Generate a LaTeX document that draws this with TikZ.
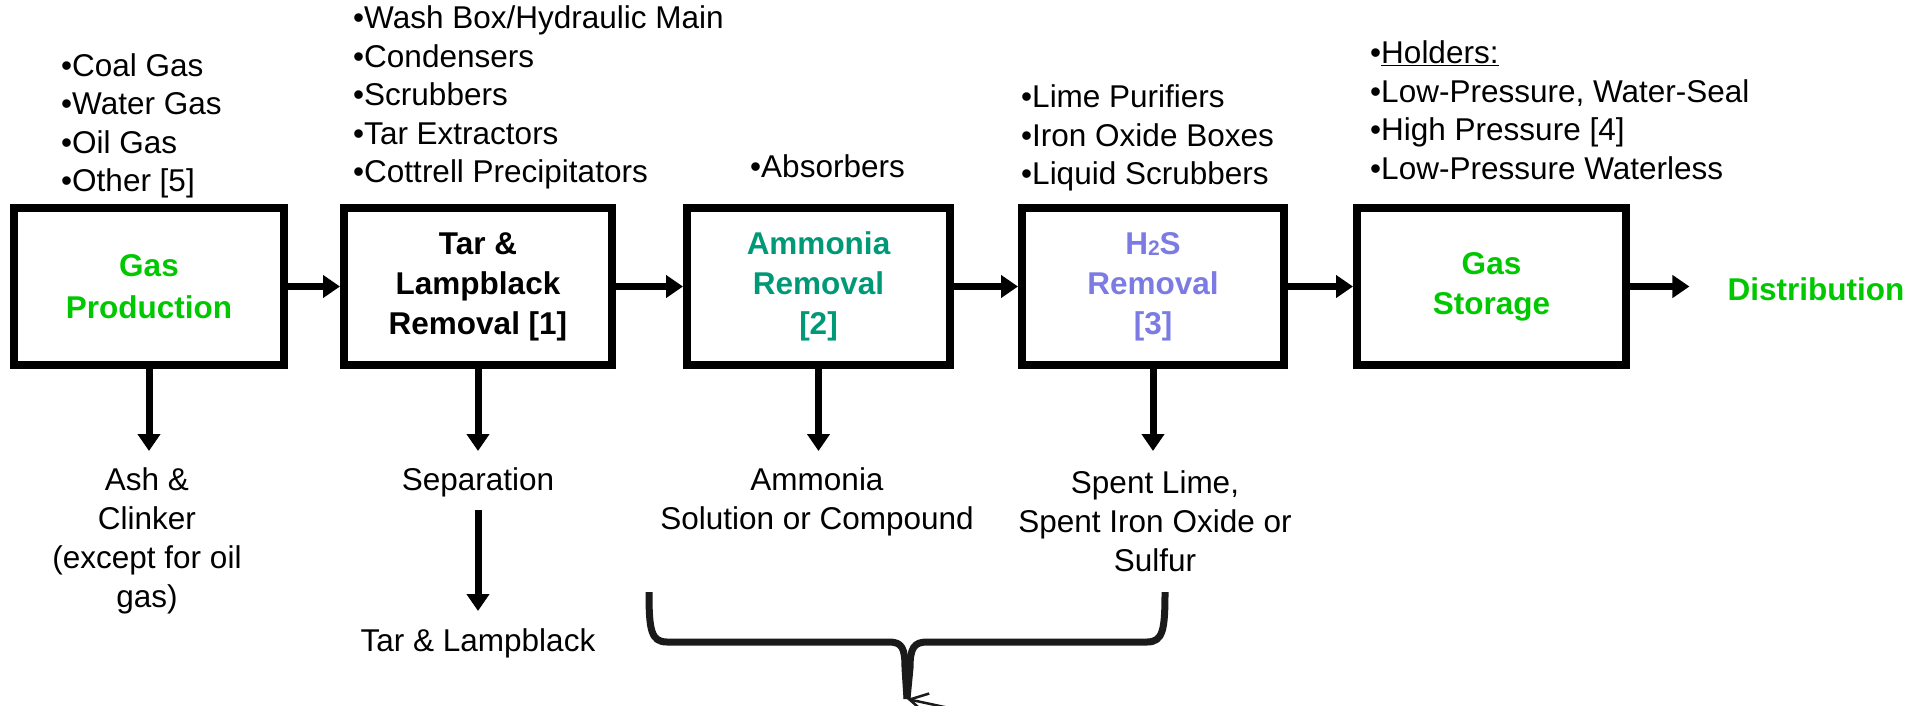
\documentclass[tikz,border=0pt]{standalone}
\usepackage{fontspec}
\setmainfont{Liberation Sans}
\usetikzlibrary{arrows.meta}
\definecolor{gasgreen}{HTML}{00C800}
\definecolor{ammteal}{HTML}{009977}
\definecolor{hspurple}{HTML}{7B7BE3}
\definecolor{bracegray}{HTML}{1A1A1A}
\tikzset{
  procbox/.style={draw=black, line width=8pt, minimum height=157pt, inner sep=0pt,
    align=center, font=\fontsize{31.5}{40}\selectfont\bfseries},
  flowarrow/.style={line width=7pt, -{Triangle[length=17pt,width=22pt]}},
  outtext/.style={inner sep=0pt, align=center, font=\fontsize{31.5}{39}\selectfont},
  listtext/.style={inner sep=0pt, align=left, anchor=west, font=\fontsize{31.5}{38.5}\selectfont},
  bracepath/.style={draw=bracegray, line width=7pt, line join=round},
  pointer/.style={draw=bracegray, line width=2.5pt, -{Straight Barb[length=18pt,width=20pt]}}
}
\begin{document}
\begin{tikzpicture}[x=1pt,y=-1pt]
\useasboundingbox (0,0) rectangle (1927,705);
\clip (0,0) rectangle (1927,705);
% process boxes
\node[procbox, minimum width=270pt, text=gasgreen] (b1) at (149,286.5) {Gas\\[2pt]Production};
\node[procbox, minimum width=268pt, text=black] (b2) at (478,286.5) {Tar \&\\Lampblack\\Removal [1]};
\node[procbox, minimum width=263pt, text=ammteal] (b3) at (818.5,286.5) {Ammonia\\Removal\\{}[2]};
\node[procbox, minimum width=262pt, text=hspurple] (b4) at (1153,286.5) {H\raisebox{-1pt}{\fontsize{21}{21}\selectfont 2}S\\Removal\\{}[3]};
\node[procbox, minimum width=269pt, text=gasgreen] (b5) at (1491.5,286.5) {Gas\\Storage};
\node[outtext, text=gasgreen, font=\fontsize{31.5}{39}\selectfont\bfseries] (dist) at (1816,289) {Distribution};
% horizontal flow
\draw[flowarrow] (b1.east) -- (b2.west);
\draw[flowarrow] (b2.east) -- (b3.west);
\draw[flowarrow] (b3.east) -- (b4.west);
\draw[flowarrow] (b4.east) -- (b5.west);
\draw[flowarrow, shorten >=38pt] (b5.east) -- (b5.east -| dist.west);
% lists above
\node[listtext] (l1) at (61,126) {•Coal Gas\\•Water Gas\\•Oil Gas\\•Other [5]};
\node[listtext] (l2) at (353,97.5) {•Wash Box/Hydraulic Main\\•Condensers\\•Scrubbers\\•Tar Extractors\\•Cottrell Precipitators};
\node[listtext] (l3) at (750,166) {•Absorbers};
\node[listtext] (l4) at (1021,138) {•Lime Purifiers\\•Iron Oxide Boxes\\•Liquid Scrubbers};
\node[listtext] (l5) at (1370,110) {•\underline{Holders:}\\•Low-Pressure, Water-Seal\\•High Pressure [4]\\•Low-Pressure Waterless};
% outputs below
\node[outtext] (ash) at (147,540.5) {Ash \&\\Clinker\\(except for oil\\gas)};
\node[outtext] (sep) at (478,482) {Separation};
\node[outtext] (tarlb) at (478,643) {Tar \& Lampblack};
\node[outtext] (amm) at (817,501.5) {Ammonia\\Solution or Compound};
\node[outtext] (spent) at (1155,521) {Spent Lime,\\Spent Iron Oxide or\\Sulfur};
\coordinate (d1) at (149,451);
\coordinate (d2) at (478,451);
\coordinate (d3) at (818.5,451);
\coordinate (d4) at (1153,451);
\draw[flowarrow] (b1.south) -- (d1);
\draw[flowarrow] (b2.south) -- (d2);
\draw[flowarrow] (b3.south) -- (d3);
\draw[flowarrow] (b4.south) -- (d4);
\coordinate (s1) at (478,510);
\coordinate (s2) at (478,611);
\draw[flowarrow] (s1) -- (s2);
% brace
\coordinate (tip) at (907,699);
\draw[bracepath] (649,592) .. controls (649,630) and (651,642) .. (667,642)
  -- (889,642) .. controls (902,642) and (905,648) .. (905,668) -- (tip);
\draw[bracepath] (1165,592) .. controls (1165,630) and (1163,642) .. (1147,642)
  -- (927,642) .. controls (914,642) and (910,648) .. (910,668) -- (tip);
\coordinate (ptail) at (1010,721);
\draw[pointer] (ptail) -- (tip);
\end{tikzpicture}
\end{document}
